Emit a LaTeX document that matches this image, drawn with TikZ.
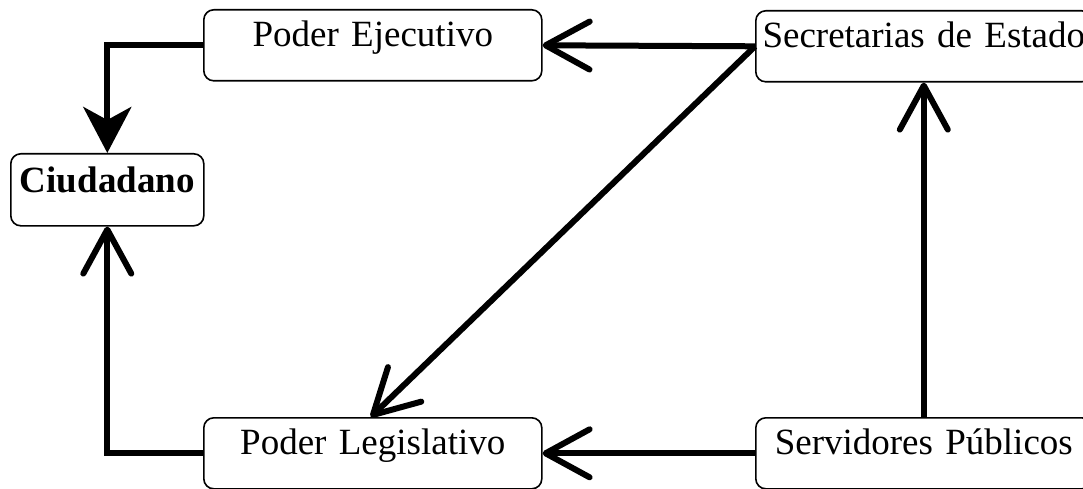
\documentclass[tikz,border=0pt]{standalone}
\usepackage{fontspec}
\setmainfont{Liberation Serif}
\usetikzlibrary{arrows.meta,calc,positioning}

\tikzset{
  caja/.style={draw, line width=1.6pt, rounded corners=10pt, inner sep=0pt, anchor=north west, align=center,
    font=\fontsize{37}{44}\selectfont, text height=37pt, text depth=34pt},
  flecha/.style={line width=6pt, -{Straight Barb[length=44pt,width=48pt,round]}},
  relleno/.style={line width=6pt, -{Stealth[length=46pt,width=48pt,inset=13pt]}}
}

\begin{document}
\begin{tikzpicture}[x=1pt,y=-1pt]
\useasboundingbox (0,0) rectangle (1083,489);
\clip (0,0) rectangle (1083,489);
\node[caja, text width=338pt] (ejec) at (203,9) {Poder Ejecutivo};
\node[caja, text width=336pt] (secr) at (755,10) {Secretarias de Estado};
\node[caja, text width=193pt, font=\fontsize{37}{44}\selectfont\bfseries, text height=39pt, text depth=33pt] (ciud) at (10,153) {Ciudadano};
\node[caja, text width=338pt] (legis) at (203,417) {Poder Legislativo};
\node[caja, text width=336pt] (serv) at (755,417) {Servidores Públicos};
\draw[relleno] (ejec.west) -| (ciud.north);
\draw[flecha] (legis.west) -| (ciud.south);
\draw[flecha] (secr.west) -- (ejec.east);
\draw[flecha] (secr.west) -- ([xshift=-2pt]legis.north);
\draw[flecha] (serv.west) -- (legis.east);
\draw[flecha] (serv.north) -- (secr.south);
\end{tikzpicture}
\end{document}
